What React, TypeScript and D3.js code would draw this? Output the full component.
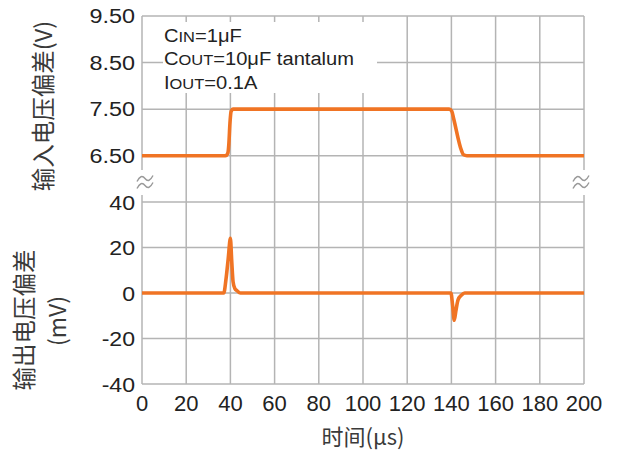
import React from "react";
import * as d3 from "d3";

const xTicks = [0, 20, 40, 60, 80, 100, 120, 140, 160, 180, 200];
const topTicks = [9.5, 8.5, 7.5, 6.5];
const topTickLabels = ["9.50", "8.50", "7.50", "6.50"];
const botTicks = [40, 20, 0, -20, -40];

const timeIn = [0, 37.8, 38.8, 39.3, 39.8, 40.3, 41.2, 42, 139, 140.2, 141, 144.5, 145.5, 147, 200];
const vIn = [6.5, 6.5, 6.55, 6.75, 7.2, 7.45, 7.5, 7.5, 7.5, 7.45, 7.3, 6.62, 6.52, 6.5, 6.5];

const timeOut = [0, 37, 38, 39, 40, 40.6, 41.2, 42, 43, 44.5, 139.8, 140.5, 141.3, 142, 143, 144.5, 146, 200];
const vOut = [0, 0, 6, 15, 24, 14, 5, 2, 1, 0, 0, -5, -12, -8, -3, -1, 0, 0];

const W = 618;
const H = 455;
const X0 = 142;
const X1 = 584;

const GRID = "#b4b4b4";
const ORANGE = "#f07424";
const FONT = "'Liberation Sans', Arial, 'Noto Sans CJK SC', sans-serif";
const CJK = "'Noto Sans CJK SC', 'Liberation Sans', sans-serif";

export default function App() {
  const x = d3.scaleLinear().domain([0, 200]).range([X0, X1]);
  const yTop = d3.scaleLinear().domain([6.5, 9.5]).range([155.7, 16]);
  const yBot = d3.scaleLinear().domain([-40, 40]).range([384, 202]);

  const lineIn = d3
    .line<number>()
    .x((d, i) => x(timeIn[i]))
    .y((d) => yTop(d))
    .curve(d3.curveMonotoneX);
  const lineOut = d3
    .line<number>()
    .x((d, i) => x(timeOut[i]))
    .y((d) => yBot(d))
    .curve(d3.curveMonotoneX);

  const breakMark = (cx: number, cy: number) => {
    const wave = (dy: number) =>
      `M${cx - 8},${cy + dy + 3} q4,-8 8,-3 q4,5 8,-3`;
    return (
      <g key={`b${cx}`}>
        <path d={wave(-3.5)} fill="none" stroke="#999" strokeWidth={1.4} />
        <path d={wave(3.5)} fill="none" stroke="#999" strokeWidth={1.4} />
      </g>
    );
  };

  return (
    <svg
      width={W}
      height={H}
      style={{ position: "absolute", left: 0, top: 0, background: "#fff" }}
    >
      {xTicks.map((t) => (
        <line
          key={`vx${t}`}
          x1={x(t)}
          x2={x(t)}
          y1={yTop(9.5)}
          y2={t === 0 || t === 200 ? 170 : yBot(-40)}
          stroke={GRID}
          strokeWidth={1.5}
        />
      ))}
      {[0, 200].map((t) => (
        <line
          key={`vb${t}`}
          x1={x(t)}
          x2={x(t)}
          y1={195}
          y2={yBot(-40)}
          stroke={GRID}
          strokeWidth={1.5}
        />
      ))}
      {topTicks.map((v) => (
        <line
          key={`ht${v}`}
          x1={X0}
          x2={X1}
          y1={yTop(v)}
          y2={yTop(v)}
          stroke={GRID}
          strokeWidth={1.5}
        />
      ))}
      {botTicks.map((v) => (
        <line
          key={`hb${v}`}
          x1={X0}
          x2={X1}
          y1={yBot(v)}
          y2={yBot(v)}
          stroke={GRID}
          strokeWidth={1.5}
        />
      ))}

      {breakMark(145, 182)}
      {breakMark(581, 182)}

      <rect x={163} y={22} width={214} height={71} fill="#fff" />
      <g fontFamily={FONT} fill="#222" fontSize={19}>
        <text transform="translate(164,41.5) scale(1.06,1)">
          C<tspan fontSize={15.5}>IN</tspan>=1μF
        </text>
        <text transform="translate(164,65) scale(1.06,1)">
          C<tspan fontSize={15.5}>OUT</tspan>=10μF tantalum
        </text>
        <text transform="translate(164,89) scale(1.06,1)">
          I<tspan fontSize={15.5}>OUT</tspan>=0.1A
        </text>
      </g>

      <path d={lineIn(vIn) || ""} fill="none" stroke={ORANGE} strokeWidth={3.6} strokeLinejoin="round" />
      <path d={lineOut(vOut) || ""} fill="none" stroke={ORANGE} strokeWidth={3.6} strokeLinejoin="round" />

      <g fontFamily={FONT} fill="#222" fontSize={19.5} textAnchor="end">
        {topTicks.map((v, i) => (
          <text
            key={`tl${v}`}
            transform={`translate(135,${yTop(v) + 7}) scale(1.2,1)`}
          >
            {topTickLabels[i]}
          </text>
        ))}
      </g>
      <g fontFamily={FONT} fill="#222" fontSize={21} textAnchor="end">
        {botTicks.map((v) => (
          <text key={`bl${v}`} transform={`translate(135,${yBot(v) + 7.5}) scale(1.1,1)`}>
            {v}
          </text>
        ))}
      </g>
      <g fontFamily={FONT} fill="#222" fontSize={22} textAnchor="middle">
        {xTicks.map((t) => (
          <text key={`xl${t}`} x={x(t)} y={411}>
            {t}
          </text>
        ))}
      </g>

      <text
        transform="translate(52,106) rotate(-90)"
        textAnchor="middle"
        fontFamily={CJK}
        fontSize={23.5}
        fill="#3a3a3a"
      >
        输入电压偏差(V)
      </text>
      <text
        transform="translate(33,320) rotate(-90)"
        textAnchor="middle"
        fontFamily={CJK}
        fontSize={23.5}
        fill="#3a3a3a"
      >
        输出电压偏差
      </text>
      <text
        transform="translate(66,321) rotate(-90)"
        textAnchor="middle"
        fontFamily={CJK}
        fontSize={23}
        fill="#3a3a3a"
      >
        (mV)
      </text>
      <text
        x={363}
        y={445}
        textAnchor="middle"
        fontFamily={CJK}
        fontSize={22}
        fill="#3a3a3a"
      >
        时间(μs)
      </text>
    </svg>
  );
}
